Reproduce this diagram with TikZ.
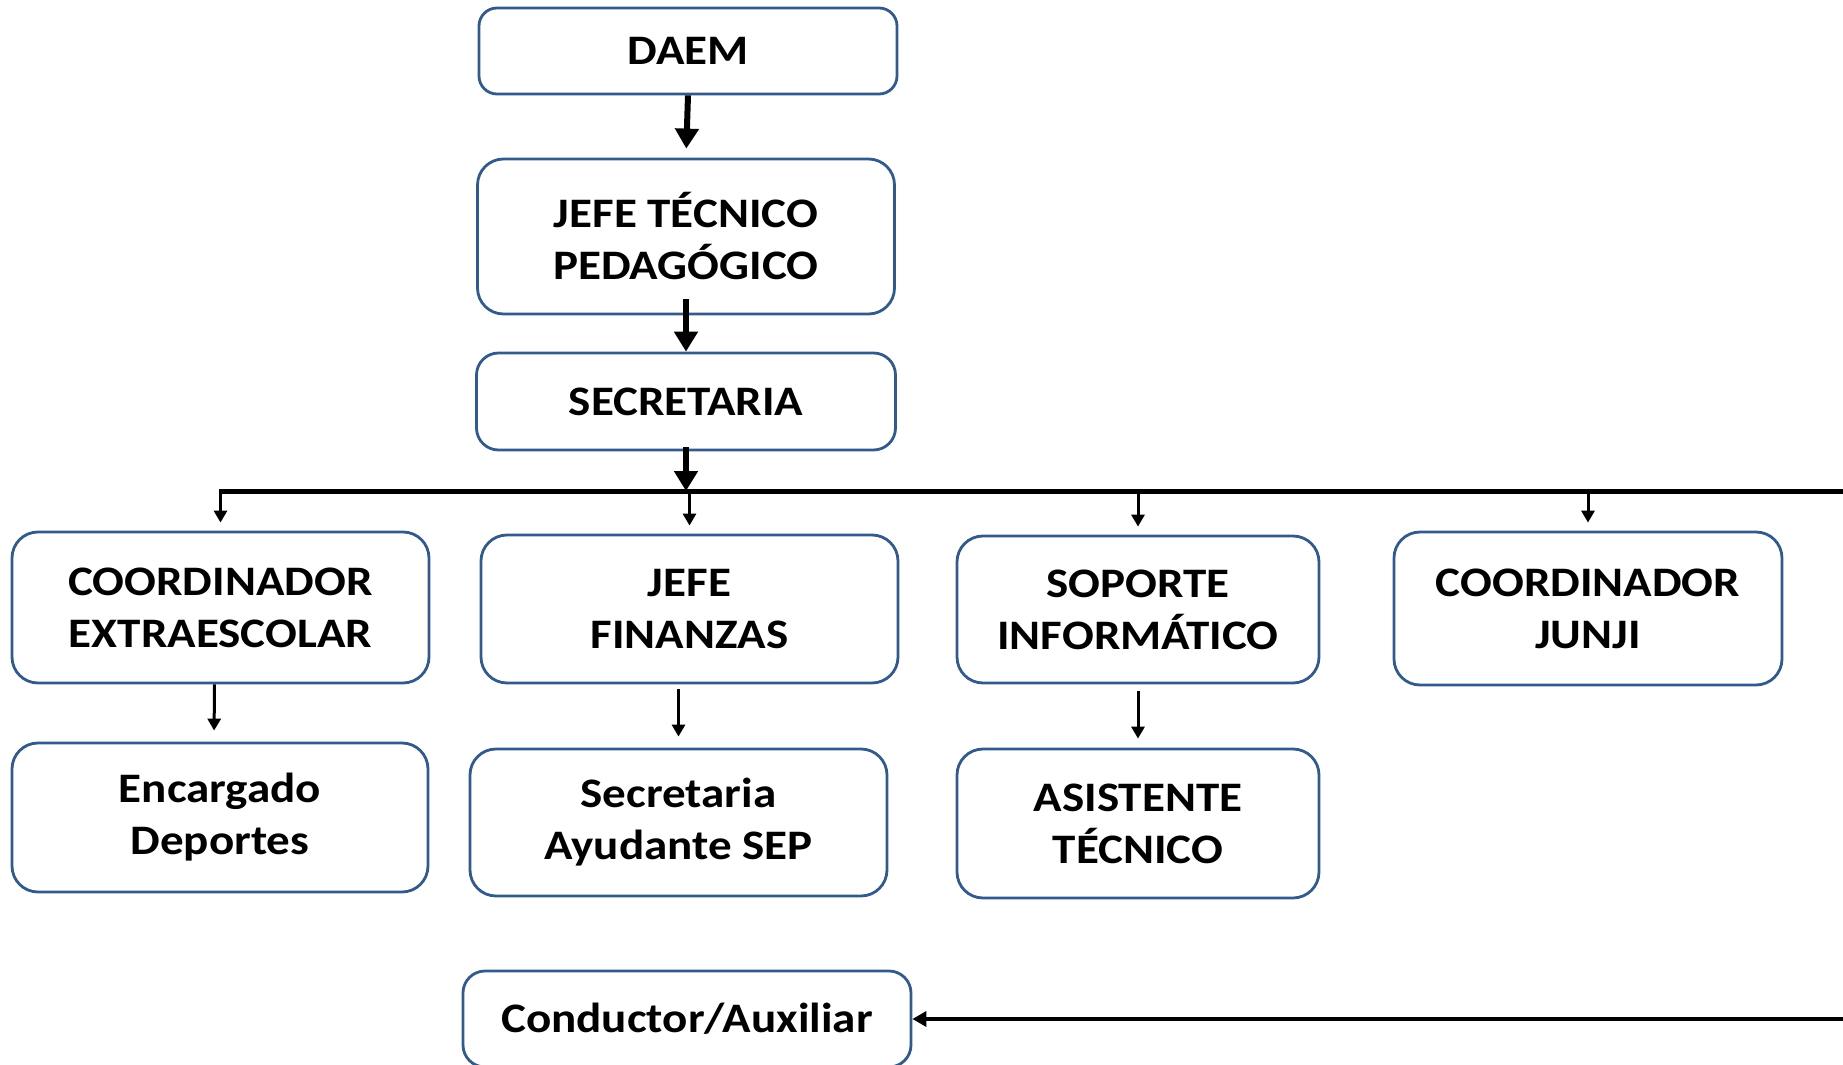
\documentclass[tikz,border=0pt]{standalone}
\usepackage{fontspec}
\setmainfont{Carlito}[FakeStretch=1.12]
\usetikzlibrary{arrows.meta}
\definecolor{boxblue}{RGB}{50,90,140}

\begin{document}
\begin{tikzpicture}[x=0.5pt, y=-0.5pt,
  unit/.style={draw=boxblue, line width=1.4pt, rounded corners=13pt, fill=white,
    align=center, inner sep=0pt, font=\fontsize{21}{26}\selectfont\bfseries},
  mainarrow/.style={line width=3pt, -{Triangle[length=10pt, width=11.5pt]}},
  subarrow/.style={line width=1.5pt, -{Triangle[length=6pt, width=6.5pt]}}]
  \useasboundingbox (0,0) rectangle (1843,1065);
  % top chain
  \node [unit, minimum width=209pt, minimum height=43pt, rounded corners=9pt] (daem) at (688,51) {DAEM};
  \node [unit, minimum width=208.5pt, minimum height=77.5pt] (jefetec) at (686,236.5) {JEFE TÉCNICO\\PEDAGÓGICO};
  \node [unit, minimum width=209.5pt, minimum height=48.5pt, rounded corners=11pt] (secre) at (686,401.5) {SECRETARIA};
  % second level
  \node [unit, minimum width=208.5pt, minimum height=75.5pt] (coordextra) at (220.5,607.5) {COORDINADOR\\EXTRAESCOLAR};
  \node [unit, minimum width=208.5pt, minimum height=74pt] (jefefin) at (689.5,609) {JEFE\\FINANZAS};
  \node [unit, minimum width=181pt, minimum height=73.5pt] (soporte) at (1138,609.5) {SOPORTE\\INFORMÁTICO};
  \node [unit, minimum width=194pt, minimum height=76.5pt] (coordjunji) at (1588,608.5) {COORDINADOR\\JUNJI};
  % third level
  \node [unit, minimum width=208pt, minimum height=74.5pt] (encargado) at (220,817.5) {Encargado\\Deportes};
  \node [unit, minimum width=208.5pt, minimum height=73.5pt] (secayud) at (678.5,822.5) {Secretaria\\Ayudante SEP};
  \node [unit, minimum width=181pt, minimum height=74.5pt] (asistente) at (1138,823.5) {ASISTENTE\\TÉCNICO};
  \node [unit, minimum width=224pt, minimum height=48pt, rounded corners=11pt] (conductor) at (687,1019) {Conductor/Auxiliar};
  \coordinate (bus) at (686,491);
  \coordinate (busend) at (1843,491);
  \coordinate (feed) at (1843,1019);
  % connectors
  \draw [mainarrow, shorten >=4.5pt] (daem.south) -- (jefetec.north);
  \draw [mainarrow] ([yshift=8pt]jefetec.south) -- (secre.north);
  \draw [mainarrow] ([yshift=2pt]secre.south) -- (bus);
  \draw [line width=2.5pt] ([xshift=-0.75pt]coordextra.north |- bus) -- (busend);
  \foreach \n in {coordextra, jefefin, soporte, coordjunji}
    \draw [subarrow, shorten >=4pt] (\n.north |- bus) -- (\n.north);
  \draw [subarrow, shorten >=5.5pt] ([xshift=-3pt]coordextra.south) -- ([xshift=-3pt]encargado.north);
  \draw [subarrow, shorten <=2.5pt, shorten >=5.5pt] (secayud.north |- jefefin.south) -- (secayud.north);
  \draw [subarrow, shorten <=3.5pt, shorten >=4.5pt] (soporte.south) -- (asistente.north);
  \draw [line width=2pt, -{Triangle[length=7pt, width=7.5pt]}] (feed) -- (conductor.east);
\end{tikzpicture}
\end{document}
